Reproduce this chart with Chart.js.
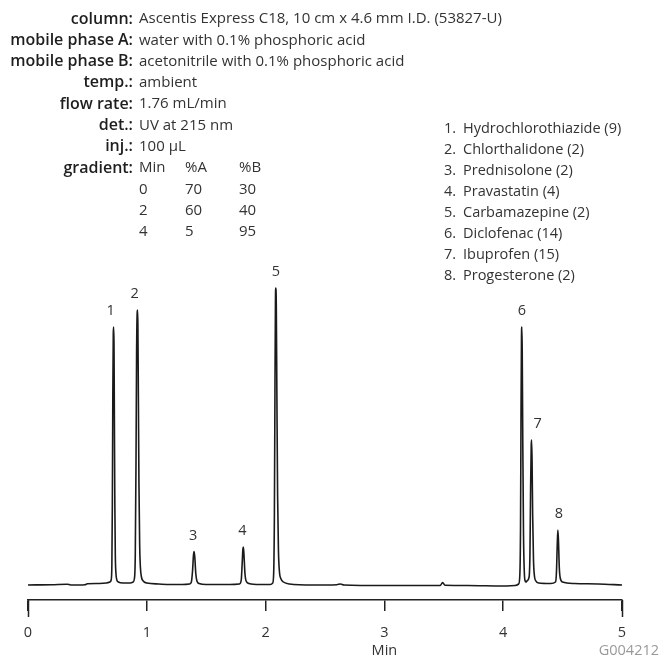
<!DOCTYPE html>
<html><head><meta charset="utf-8">
<script src="https://cdn.jsdelivr.net/npm/chart.js@4/dist/chart.umd.min.js"></script>
<style>html,body{margin:0;padding:0;background:#fff}#wrap{width:661px;height:661px;position:relative}</style>
</head><body><div id="wrap"><canvas id="c" width="661" height="661"></canvas></div>
<script>
// ---- data ----
const times = [0.00,0.20,0.33,0.36,0.48,0.50,0.60,0.66,0.69,0.700,0.706,0.710,0.714,0.718,0.721,0.724,0.727,0.731,0.735,0.740,0.748,0.760,0.800,0.860,0.885,0.895,0.903,0.909,0.914,0.919,0.922,0.925,0.929,0.934,0.940,0.946,0.955,0.970,1.000,1.10,1.20,1.30,1.36,1.375,1.385,1.393,1.398,1.404,1.412,1.422,1.44,1.50,1.70,1.78,1.795,1.803,1.809,1.813,1.818,1.826,1.836,1.86,1.95,2.04,2.06,2.068,2.074,2.079,2.083,2.086,2.090,2.095,2.101,2.108,2.116,2.13,2.15,2.20,2.40,2.60,2.63,2.66,3.00,3.30,3.47,3.49,3.51,3.70,4.00,4.10,4.13,4.140,4.146,4.150,4.154,4.157,4.160,4.165,4.171,4.178,4.185,4.192,4.200,4.218,4.225,4.231,4.236,4.239,4.243,4.248,4.255,4.263,4.275,4.30,4.40,4.44,4.448,4.455,4.460,4.465,4.472,4.480,4.50,4.60,4.80,5.00];
const signal = [0,0.3,0.8,0,0.3,1.2,1.5,2,3,5,20,80,190,252,258,240,170,80,30,12,5,3,2,2,3,6,30,120,230,272,275,260,190,100,40,18,8,4,2,1,0.5,0.5,1,3,14,30,33.5,28,12,4,1.5,0.5,0.5,1,5,22,36,38,30,12,4,1.5,0.5,0.5,2,12,70,200,285,297,280,190,90,35,14,6,3,1,0,0.3,1,0,-0.5,-0.5,-0.5,2.5,-0.3,-0.5,-1,-0.5,1,10,60,170,248,258,235,140,50,12,4,3,4,8,30,100,140,145,125,70,25,9,4,2,1.5,3,12,40,55,45,18,7,3,1.5,1,0];
const peakNumbers = ['1','2','3','4','5','6','7','8'];
const peakTimes = [0.721,0.922,1.398,1.813,2.086,4.157,4.239,4.460];
const peakHeights = [258,275,33.5,38,297,258,145,55];
const compounds = ['Hydrochlorothiazide (9)','Chlorthalidone (2)','Prednisolone (2)','Pravastatin (4)','Carbamazepine (2)','Diclofenac (14)','Ibuprofen (15)','Progesterone (2)'];
const methodLabels = ['column:','mobile phase A:','mobile phase B:','temp.:','flow rate:','det.:','inj.:','gradient:'];
const methodValues = ['Ascentis Express C18, 10 cm x 4.6 mm I.D. (53827-U)','water with 0.1% phosphoric acid','acetonitrile with 0.1% phosphoric acid','ambient','1.76 mL/min','UV at 215 nm','100 µL'];
const gradientHeader = ['Min','%A','%B'];
const gradientMin = ['0','2','4'];
const gradientA = ['70','60','5'];
const gradientB = ['30','40','95'];
const xTitle = 'Min';
const figureCode = 'G004212';

const FONT = '"Open Sans", "Noto Sans", sans-serif';

const textPlugin = {
  id: 'texts',
  afterDraw(chart) {
    const ctx = chart.ctx;
    const xs = chart.scales.x, ys = chart.scales.y;
    ctx.save();
    // method block
    const lx = 133, vx = 139, y0 = 19, dy = 21.3;
    ctx.textBaseline = 'middle';
    methodLabels.forEach((l, i) => {
      ctx.font = '600 16px ' + FONT;
      ctx.fillStyle = '#1e1e1e';
      ctx.textAlign = 'right';
      ctx.fillText(l, lx, y0 + i * dy);
    });
    ctx.font = '15px ' + FONT;
    ctx.fillStyle = '#333';
    ctx.textAlign = 'left';
    methodValues.forEach((v, i) => ctx.fillText(v, vx, y0 + i * dy));
    const gcols = [vx, vx + 46, vx + 100];
    const gy = y0 + 7 * dy;
    gradientHeader.forEach((h, j) => ctx.fillText(h, gcols[j], gy));
    gradientMin.forEach((m, r) => {
      const yy = gy + (r + 1) * dy;
      ctx.fillText(m, gcols[0], yy);
      ctx.fillText(gradientA[r], gcols[1], yy);
      ctx.fillText(gradientB[r], gcols[2], yy);
    });
    // compound legend
    const ly0 = 129, ldy = 21;
    ctx.font = '14.5px ' + FONT;
    compounds.forEach((c, i) => {
      ctx.textAlign = 'right';
      ctx.fillText(peakNumbers[i] + '.', 456, ly0 + i * ldy);
      ctx.textAlign = 'left';
      ctx.fillText(c, 463, ly0 + i * ldy);
    });
    // peak labels
    const dxs = [-3, -3, -1, -1, 0, 0, 6, 1];
    ctx.font = '14.5px ' + FONT;
    ctx.fillStyle = '#333';
    ctx.textAlign = 'center';
    ctx.textBaseline = 'alphabetic';
    peakNumbers.forEach((p, i) => {
      const px = xs.getPixelForValue(peakTimes[i]) + dxs[i];
      const py = ys.getPixelForValue(peakHeights[i]) - 12;
      ctx.fillText(p, px, py);
    });
    // extended end ticks
    ctx.strokeStyle = '#222';
    ctx.lineWidth = 1.5;
    [xs.min, xs.max].forEach(v => {
      const px = Math.round(xs.getPixelForValue(v)) + 0.5;
      ctx.beginPath();
      ctx.moveTo(px, xs.top);
      ctx.lineTo(px, xs.top + 17);
      ctx.stroke();
    });
    // axis title under value 3, figure code
    ctx.font = '14.5px ' + FONT;
    ctx.fillStyle = '#333';
    ctx.textAlign = 'center';
    ctx.textBaseline = 'middle';
    ctx.fillText(xTitle, xs.getPixelForValue(3), 651);
    ctx.fillStyle = '#9a9a9a';
    ctx.textAlign = 'right';
    ctx.fillText(figureCode, 659, 651);
    ctx.restore();
  }
};

new Chart(document.getElementById('c'), {
  type: 'line',
  data: {
    datasets: [{
      data: times.map((t, i) => ({x: t, y: signal[i]})),
      borderColor: '#1a1a1a',
      borderWidth: 1.6,
      pointRadius: 0,
      fill: false,
      tension: 0,
      cubicInterpolationMode: 'monotone'
    }]
  },
  options: {
    responsive: false,
    animation: false,
    devicePixelRatio: 1,
    layout: {padding: {left: 28, right: 39, top: 285, bottom: 0}},
    plugins: {legend: {display: false}, tooltip: {enabled: false}},
    scales: {
      x: {
        type: 'linear', min: 0, max: 5,
        afterFit: s => { s.height = 61; },
        ticks: {stepSize: 1, color: '#333', font: {family: FONT, size: 14.5}, padding: 13},
        grid: {display: true, drawOnChartArea: false, drawTicks: true, tickLength: 11, color: '#222', lineWidth: 1.5},
        border: {display: true, color: '#222', width: 1.5}
      },
      y: {display: false, min: -15, max: 300}
    }
  },
  plugins: [textPlugin]
});
</script></body></html>
